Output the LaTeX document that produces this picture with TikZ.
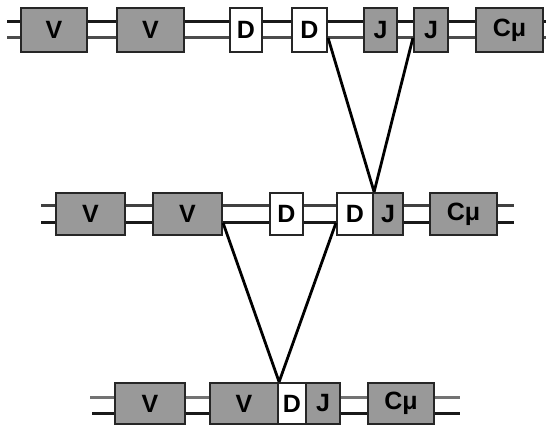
\documentclass[tikz,border=0pt]{standalone}
\usepackage{fontspec}
\setmainfont{Liberation Sans}
\begin{document}
\begin{tikzpicture}[x=1pt,y=1pt,
  seg/.style={draw=black!85,line width=2.2pt,inner sep=0pt,font=\fontsize{25}{25}\selectfont\bfseries,text=black},
  gseg/.style={seg,fill=black!40},
  wseg/.style={seg,fill=white},
  strand/.style={draw=black!90,line width=3pt},
  loopline/.style={draw=black,line width=2.8pt}]
\useasboundingbox (0,0) rectangle (546,425);
% strand coordinates
\coordinate (s1a) at (7,403); \coordinate (s1b) at (7,387);
\coordinate (e1a) at (546,403); \coordinate (e1b) at (546,387);
\coordinate (s2a) at (41,219); \coordinate (s2b) at (41,202);
\coordinate (e2a) at (514,219); \coordinate (e2b) at (514,202);
\coordinate (s3a) at (90,27); \coordinate (s3b) at (92,11);
\coordinate (e3a) at (460,27); \coordinate (e3b) at (460,11);
\draw[strand] (s1a) -- (e1a); \draw[strand,draw=black!70] (s1b) -- (e1b);
\draw[strand,draw=black!75] (s2a) -- (e2a); \draw[strand] (s2b) -- (e2b);
\draw[strand,draw=black!55] (s3a) -- (e3a); \draw[strand] (s3b) -- (e3b);
% row 1
\node[gseg,minimum width=66,minimum height=44] (r1v1) at (54,395) {V};
\node[gseg,minimum width=67,minimum height=44] (r1v2) at (150.5,395) {V};
\node[wseg,minimum width=32,minimum height=44] (r1d1) at (246,395) {D};
\node[wseg,minimum width=35,minimum height=44] (r1d2) at (309.5,395) {D};
\node[gseg,minimum width=33,minimum height=44] (r1j1) at (380.5,395) {J};
\node[gseg,minimum width=34,minimum height=44] (r1j2) at (431,395) {J};
\node[gseg,minimum width=67,minimum height=44] (r1c) at (509.5,395) {Cμ};
% row 2
\node[gseg,minimum width=69,minimum height=42] (r2v1) at (90.5,211) {V};
\node[gseg,minimum width=69,minimum height=42] (r2v2) at (187.5,211) {V};
\node[wseg,minimum width=33,minimum height=42] (r2d1) at (286.5,211) {D};
\node[wseg,minimum width=36,minimum height=42] (r2d) at (355,211) {D};
\node[gseg,minimum width=30,minimum height=42] (r2j) at (388,211) {J};
\node[gseg,minimum width=67,minimum height=42] (r2c) at (463.5,211) {Cμ};
% row 3
\node[gseg,minimum width=70,minimum height=41] (r3v1) at (150,21.5) {V};
\node[gseg,minimum width=68,minimum height=41] (r3v) at (244,21.5) {V};
\node[wseg,minimum width=28,minimum height=41] (r3d) at (292,21.5) {D};
\node[gseg,minimum width=34,minimum height=41] (r3j) at (323,21.5) {J};
\node[gseg,minimum width=66,minimum height=41] (r3c) at (401,21.5) {Cμ};
% excised loops
\draw[loopline] (r1d2.east |- s1b) -- (r2d.north east);
\draw[loopline] (r1j2.west |- s1b) -- (r2d.north east);
\draw[loopline] (r2v2.east |- s2b) -- (r3v.north east);
\draw[loopline] (r2d.west |- s2b) -- (r3v.north east);
\end{tikzpicture}
\end{document}
